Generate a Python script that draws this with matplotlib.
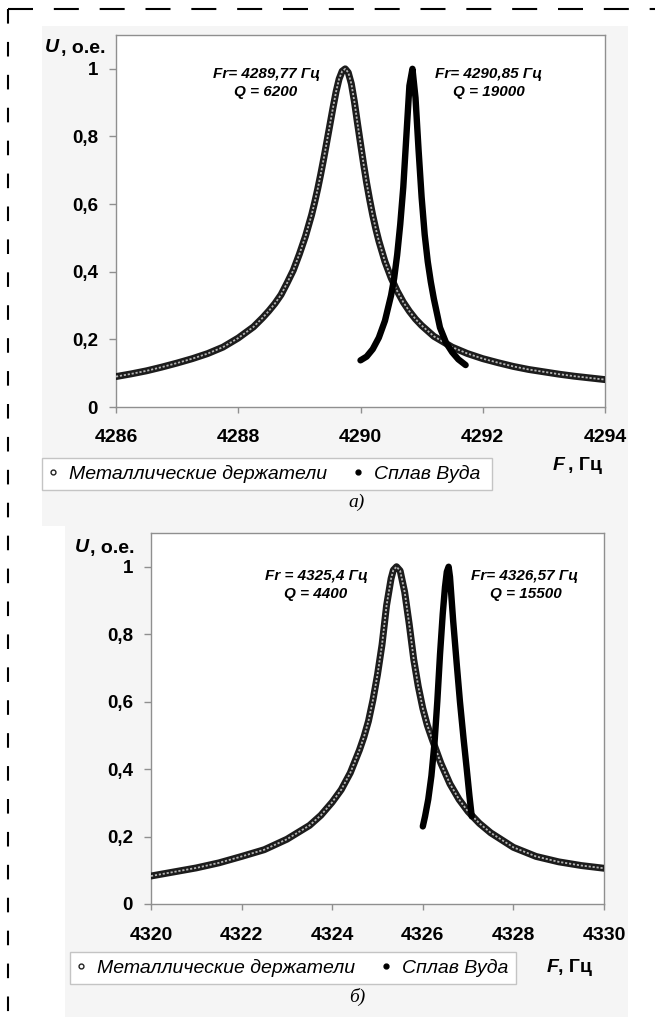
import matplotlib
matplotlib.use('Agg')
import matplotlib.pyplot as plt
import matplotlib.ticker as mticker
from matplotlib.lines import Line2D
from matplotlib.patches import Rectangle

plt.rcParams['font.family'] = ['Liberation Sans', 'DejaVu Sans']

W, H = 655, 1017

# --- а) 4286..4294 Hz ---
f_met_a = [4286.0, 4286.25, 4286.5, 4286.75, 4287.0, 4287.25, 4287.5, 4287.75, 4288.0, 4288.25,
           4288.4, 4288.5, 4288.6, 4288.7, 4288.8, 4288.9, 4289.0, 4289.1, 4289.2,
           4289.25, 4289.3, 4289.35, 4289.4, 4289.45, 4289.5, 4289.55, 4289.6, 4289.65, 4289.7, 4289.75,
           4289.8, 4289.85, 4289.9, 4289.95, 4290.0, 4290.05, 4290.1, 4290.15, 4290.2, 4290.25, 4290.3,
           4290.4, 4290.5, 4290.6, 4290.7, 4290.8, 4290.9, 4291.0, 4291.2, 4291.5, 4291.75,
           4292.0, 4292.25, 4292.5, 4292.75, 4293.0, 4293.25, 4293.5, 4293.75, 4294.0]
u_met_a = [0.090, 0.098, 0.107, 0.118, 0.130, 0.143, 0.158, 0.177, 0.204, 0.237,
           0.264, 0.284, 0.306, 0.332, 0.367, 0.404, 0.452, 0.505, 0.568,
           0.605, 0.645, 0.689, 0.736, 0.785, 0.835, 0.885, 0.932, 0.970, 0.993, 1.0,
           0.989, 0.956, 0.903, 0.840, 0.779, 0.719, 0.663, 0.613, 0.567, 0.527, 0.491,
           0.430, 0.382, 0.343, 0.310, 0.283, 0.260, 0.241, 0.209, 0.177, 0.158,
           0.143, 0.131, 0.120, 0.111, 0.104, 0.097, 0.091, 0.086, 0.081]

f_wood_a = [4290.0, 4290.1, 4290.2, 4290.3, 4290.4, 4290.5, 4290.55, 4290.6, 4290.65, 4290.7,
            4290.75, 4290.8, 4290.85, 4290.9, 4290.95, 4291.0, 4291.05, 4291.1, 4291.15, 4291.2,
            4291.3, 4291.4, 4291.5, 4291.6, 4291.72]
u_wood_a = [0.138, 0.149, 0.171, 0.205, 0.255, 0.330, 0.380, 0.450, 0.540, 0.650,
            0.800, 0.950, 1.0, 0.914, 0.760, 0.620, 0.510, 0.430, 0.370, 0.320,
            0.235, 0.190, 0.162, 0.141, 0.124]

# --- б) 4320..4330 Hz ---
f_met_b = [4320.0, 4320.5, 4321.0, 4321.5, 4322.0, 4322.5, 4323.0, 4323.5, 4323.75, 4324.0,
           4324.2, 4324.4, 4324.6, 4324.7, 4324.8, 4324.9, 4325.0, 4325.1, 4325.2, 4325.3,
           4325.35, 4325.42, 4325.5, 4325.6, 4325.7, 4325.8, 4325.9, 4326.0, 4326.1, 4326.2,
           4326.4, 4326.6, 4326.8, 4327.0, 4327.25, 4327.5, 4328.0, 4328.5, 4329.0, 4329.5,
           4330.0]
u_met_b = [0.083, 0.095, 0.107, 0.122, 0.141, 0.161, 0.192, 0.233, 0.263, 0.302,
           0.339, 0.389, 0.456, 0.495, 0.542, 0.605, 0.680, 0.769, 0.885, 0.965,
           0.990, 1.0, 0.988, 0.925, 0.830, 0.725, 0.645, 0.580, 0.530, 0.491,
           0.417, 0.356, 0.310, 0.274, 0.239, 0.211, 0.168, 0.141, 0.125, 0.114,
           0.106]

f_wood_b = [4326.0, 4326.05, 4326.12, 4326.19, 4326.26, 4326.32, 4326.38, 4326.44, 4326.49, 4326.53,
            4326.57, 4326.6, 4326.67, 4326.75, 4326.82, 4326.9, 4326.97, 4327.03, 4327.08]
u_wood_b = [0.23, 0.26, 0.31, 0.38, 0.48, 0.60, 0.74, 0.86, 0.94, 0.985,
            1.0, 0.97, 0.84, 0.71, 0.60, 0.49, 0.40, 0.32, 0.26]

labels = ['Металлические держатели', 'Сплав Вуда']
xticks_a = [4286, 4288, 4290, 4292, 4294]
xticks_b = [4320, 4322, 4324, 4326, 4328, 4330]
yticks = [0, 0.2, 0.4, 0.6, 0.8, 1.0]


def fx(x):
    return x / W


def fy(y):
    return 1 - y / H


fig = plt.figure(figsize=(W / 100, H / 100), dpi=100)
fig.patch.set_facecolor('white')

# light grey chart areas
fig.add_artist(Rectangle((fx(42), fy(526)), (628 - 42) / W, (526 - 26) / H,
                         transform=fig.transFigure, facecolor='#f5f5f5', edgecolor='none', zorder=0))
fig.add_artist(Rectangle((fx(65), fy(1017)), (628 - 65) / W, (1017 - 526) / H,
                         transform=fig.transFigure, facecolor='#f5f5f5', edgecolor='none', zorder=0))

# dashed frame
fig.add_artist(Line2D([fx(8), fx(655)], [fy(9), fy(9)], transform=fig.transFigure,
                      color='black', lw=1.5, ls=(0, (12, 10))))
fig.add_artist(Line2D([fx(8), fx(8)], [fy(9), fy(1017)], transform=fig.transFigure,
                      color='black', lw=1.5, ls=(0, (7, 8.8))))


def hollow(ax, f, u):
    ax.plot(f, u, color='#1c1c1c', lw=5, solid_capstyle='round', solid_joinstyle='round', zorder=3)
    ax.plot(f, u, color='#b5b5b5', lw=1.3, ls=(0, (1.2, 1.0)), zorder=4)


def solid(ax, f, u):
    ax.plot(f, u, color='black', lw=4.6, solid_capstyle='round', solid_joinstyle='round', zorder=5)


def style(ax, xlim, xticks, xpad):
    ax.set_facecolor('white')
    ax.set_xlim(*xlim)
    ax.set_ylim(0, 1.1)
    ax.set_xticks(xticks)
    ax.set_yticks(yticks)
    ax.yaxis.set_major_formatter(mticker.FuncFormatter(lambda v, p: ('%g' % v).replace('.', ',')))
    for s in ax.spines.values():
        s.set_color('#8f8f8f')
        s.set_linewidth(1)
    ax.tick_params(axis='y', direction='out', length=5, width=1, color='#8f8f8f', pad=8)
    ax.tick_params(axis='x', direction='out', length=4, width=1, color='#8f8f8f', pad=xpad)
    for t in ax.get_xticklabels():
        t.set_fontsize(14)
        t.set_fontweight('bold')
    for t in ax.get_yticklabels():
        t.set_fontsize(13.5)
        t.set_fontweight('bold')


def legend(x0, y0, x1, y1):
    h1 = Line2D([], [], ls='none', marker='o', ms=3.5, mfc='white', mec='#222', mew=1)
    h2 = Line2D([], [], ls='none', marker='o', ms=3.5, mfc='black', mec='black')
    fig.add_artist(Rectangle((fx(x0), fy(y1)), (x1 - x0) / W, (y1 - y0) / H,
                             transform=fig.transFigure, facecolor='white', edgecolor='#c4c4c4',
                             lw=1, zorder=2))
    leg = fig.legend([h1, h2], labels, loc='center left', ncol=2,
                     bbox_to_anchor=(fx(x0 + 6), fy((y0 + y1) / 2)), bbox_transform=fig.transFigure,
                     frameon=False, handlelength=0.5, handletextpad=0.6, columnspacing=1.3,
                     borderaxespad=0, borderpad=0,
                     prop={'family': 'Liberation Sans', 'style': 'italic', 'size': 14})
    leg.set_zorder(3)


def bold_it(x, y, text, size=11):
    fig.text(fx(x), fy(y), text, ha='center', va='center', fontsize=size,
             fontweight='bold', fontstyle='italic')


def axis_name(x, y, sym, rest, gap):
    fig.text(fx(x), fy(y), sym, fontsize=14, fontweight='bold', fontstyle='italic', va='center')
    fig.text(fx(x + gap), fy(y), rest, fontsize=14, fontweight='bold', va='center')


# ---- top chart ----
ax1 = fig.add_axes([fx(116), fy(407), (605 - 116) / W, (407 - 35) / H])
hollow(ax1, f_met_a, u_met_a)
solid(ax1, f_wood_a, u_wood_a)
style(ax1, (4286, 4294), xticks_a, 12)

axis_name(45, 48, 'U', ', о.е.', 16)
axis_name(553, 465, 'F', ', Гц', 15)

bold_it(267, 74, 'Fr= 4289,77 Гц')
bold_it(266, 92, 'Q = 6200')
bold_it(489, 74, 'Fr= 4290,85 Гц')
bold_it(489, 92, 'Q = 19000')

legend(42, 458, 492, 490)
fig.text(fx(357), fy(502), 'а)', family='Liberation Serif', fontstyle='italic', fontsize=14,
         ha='center', va='center')

# ---- bottom chart ----
ax2 = fig.add_axes([fx(151), fy(904), (604 - 151) / W, (904 - 533) / H])
hollow(ax2, f_met_b, u_met_b)
solid(ax2, f_wood_b, u_wood_b)
style(ax2, (4320, 4330), xticks_b, 12.5)

axis_name(75, 548, 'U', ', о.е.', 15)
axis_name(547, 967, 'F', ', Гц', 11)

bold_it(316, 576, 'Fr = 4325,4 Гц')
bold_it(316, 594, 'Q = 4400')
bold_it(525, 576, 'Fr= 4326,57 Гц')
bold_it(526, 594, 'Q = 15500')

legend(70, 952, 516, 984)
fig.text(fx(357), fy(997), 'б)', family='Liberation Serif', fontstyle='italic', fontsize=14,
         ha='center', va='center')

fig.savefig('out.png', dpi=100)
